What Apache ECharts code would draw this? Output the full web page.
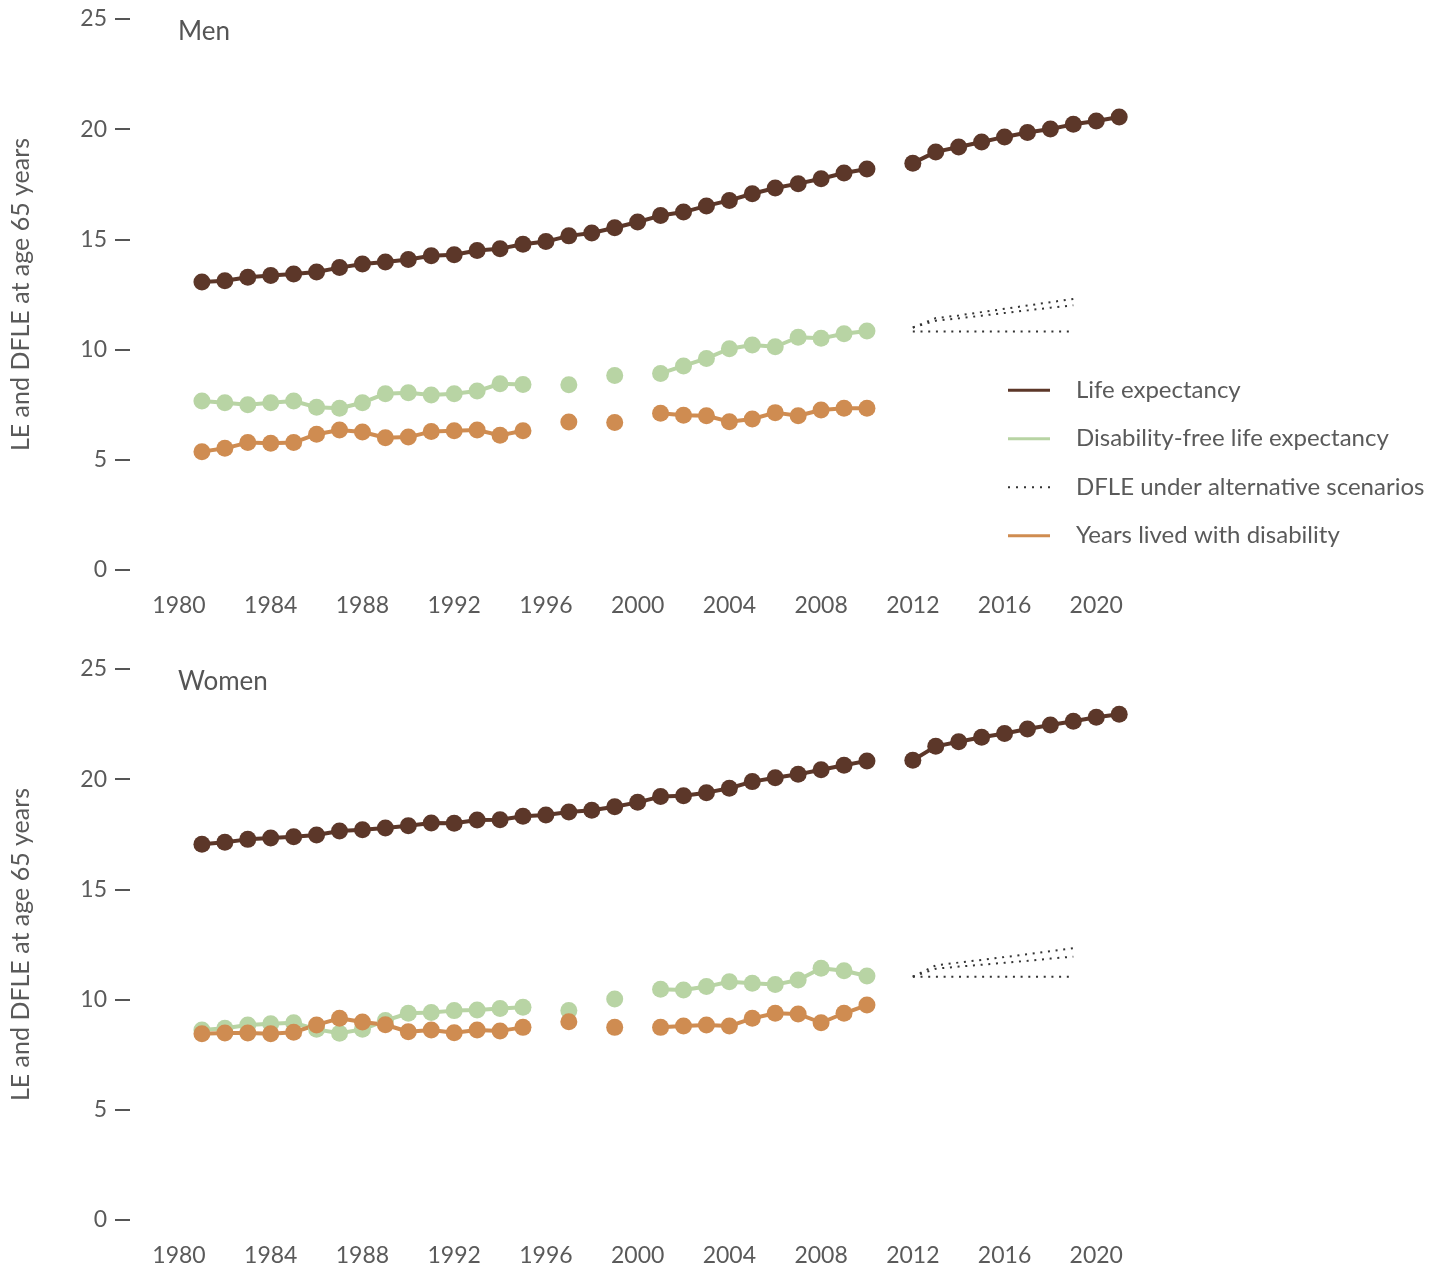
<!DOCTYPE html>
<html>
<head>
<meta charset="utf-8">
<title>Life expectancy and disability-free life expectancy at age 65</title>
<script src="https://cdn.jsdelivr.net/npm/echarts@6/dist/echarts.min.js"></script>
<style>
  html, body { margin: 0; padding: 0; background: #ffffff; }
  #chart { width: 1436px; height: 1268px; }
</style>
</head>
<body>
<div id="chart"></div>
<script>
// Calendar years 1981–2021 (null = no estimate for that year)
const years = [1981, 1982, 1983, 1984, 1985, 1986, 1987, 1988, 1989, 1990,
               1991, 1992, 1993, 1994, 1995, 1996, 1997, 1998, 1999, 2000,
               2001, 2002, 2003, 2004, 2005, 2006, 2007, 2008, 2009, 2010,
               2011, 2012, 2013, 2014, 2015, 2016, 2017, 2018, 2019, 2020, 2021];

// Men
const menLE   = [13.07, 13.12, 13.28, 13.36, 13.43, 13.52, 13.72, 13.88, 13.97, 14.09,
                 14.26, 14.30, 14.50, 14.58, 14.78, 14.90, 15.16, 15.29, 15.53, 15.79,
                 16.08, 16.24, 16.52, 16.77, 17.07, 17.33, 17.53, 17.75, 18.01, 18.19,
                 null, 18.46, 18.97, 19.19, 19.42, 19.65, 19.85, 20.01, 20.22, 20.37, 20.55];
const menDFLE = [7.67, 7.59, 7.50, 7.59, 7.67, 7.38, 7.34, 7.59, 8.00, 8.04,
                 7.94, 8.00, 8.12, 8.45, 8.42, null, 8.41, null, 8.83, null,
                 8.92, 9.26, 9.60, 10.04, 10.21, 10.13, 10.56, 10.51, 10.72, 10.84,
                 null, null, null, null, null, null, null, null, null, null, null];
const menYLD  = [5.37, 5.52, 5.78, 5.75, 5.78, 6.16, 6.35, 6.26, 6.00, 6.03,
                 6.28, 6.32, 6.35, 6.11, 6.32, null, 6.72, null, 6.69, null,
                 7.11, 7.02, 7.00, 6.73, 6.85, 7.14, 7.00, 7.26, 7.34, 7.34,
                 null, null, null, null, null, null, null, null, null, null, null];

// Women
const womenLE   = [17.05, 17.14, 17.27, 17.33, 17.39, 17.47, 17.65, 17.71, 17.79, 17.89,
                   18.01, 18.00, 18.15, 18.16, 18.32, 18.38, 18.51, 18.59, 18.75, 18.95,
                   19.21, 19.25, 19.39, 19.59, 19.89, 20.07, 20.22, 20.43, 20.63, 20.83,
                   null, 20.86, 21.49, 21.70, 21.90, 22.07, 22.28, 22.46, 22.63, 22.81, 22.95];
const womenDFLE = [8.62, 8.70, 8.85, 8.90, 8.95, 8.65, 8.47, 8.65, 9.05, 9.38,
                   9.41, 9.50, 9.53, 9.60, 9.65, null, 9.50, null, 10.03, null,
                   10.47, 10.44, 10.59, 10.81, 10.74, 10.68, 10.89, 11.42, 11.31, 11.07,
                   null, null, null, null, null, null, null, null, null, null, null];
const womenYLD  = [8.45, 8.48, 8.48, 8.45, 8.52, 8.85, 9.15, 8.98, 8.86, 8.54,
                   8.62, 8.50, 8.62, 8.58, 8.74, null, 9.00, null, 8.74, null,
                   8.74, 8.80, 8.85, 8.80, 9.15, 9.38, 9.35, 8.95, 9.38, 9.75,
                   null, null, null, null, null, null, null, null, null, null, null];

// DFLE projections under alternative scenarios, 2012–2019
const scenarioYears = [2012, 2013, 2014, 2015, 2016, 2017, 2018, 2019];
const menScenHigh   = [11.00, 11.43, 11.55, 11.70, 11.85, 12.00, 12.15, 12.30];
const menScenMid    = [11.00, 11.31, 11.42, 11.54, 11.66, 11.78, 11.90, 12.01];
const menScenFlat   = [10.82, 10.82, 10.82, 10.82, 10.82, 10.82, 10.82, 10.82];
const womenScenHigh = [11.04, 11.55, 11.68, 11.80, 11.93, 12.06, 12.20, 12.33];
const womenScenMid  = [11.04, 11.40, 11.50, 11.58, 11.67, 11.76, 11.86, 11.95];
const womenScenFlat = [11.04, 11.04, 11.04, 11.04, 11.04, 11.04, 11.04, 11.04];

const yTicks = [0, 5, 10, 15, 20, 25];
const panelTitles = ['Men', 'Women'];
const seriesNames = ['Life expectancy', 'Disability-free life expectancy',
                     'DFLE under alternative scenarios', 'Years lived with disability'];

const C_LE = '#5c3729', C_DFLE = '#b8d4a4', C_YLD = '#cf8c51', C_SCEN = '#333333';
const FONT = 'Lato, "Open Sans", sans-serif';
const TEXT = '#5a5a5a';

function pairs(xs, vs) {
  return xs.map((x, i) => [x, vs[i] == null ? '-' : vs[i]]);
}

function markedLine(name, color, values, gridIndex) {
  return {
    name: name, type: 'line', xAxisIndex: gridIndex, yAxisIndex: gridIndex,
    data: pairs(years, values), connectNulls: false,
    color: color, symbol: 'circle', symbolSize: 17, showSymbol: true,
    lineStyle: { color: color, width: 4 },
    itemStyle: { color: color },
    silent: true
  };
}

function scenarioLine(values, gridIndex) {
  return {
    name: seriesNames[2], type: 'line', xAxisIndex: gridIndex, yAxisIndex: gridIndex,
    data: pairs(scenarioYears, values), color: C_SCEN,
    symbol: 'none', showSymbol: false,
    lineStyle: { color: C_SCEN, width: 2, type: [2, 5.7] },
    itemStyle: { color: C_SCEN },
    silent: true
  };
}

const gridTops = [19, 669];
const grids = gridTops.map(t => ({ left: 179, top: t, width: 1009, height: 551 }));

const xAxes = grids.map((g, i) => ({
  type: 'value', gridIndex: i, min: 1980, max: 2024, interval: 4,
  axisLine: { show: false }, axisTick: { show: false }, splitLine: { show: false },
  axisLabel: { show: true, showMaxLabel: false, margin: 24, color: TEXT,
               fontFamily: FONT, fontSize: 23, formatter: v => String(v) }
}));

const yAxes = grids.map((g, i) => ({
  type: 'value', gridIndex: i, min: yTicks[0], max: yTicks[yTicks.length - 1], interval: 5,
  offset: 49,
  name: 'LE and DFLE at age 65 years', nameLocation: 'middle', nameGap: 97,
  nameTextStyle: { color: TEXT, fontFamily: FONT, fontSize: 25 },
  axisLine: { show: false },
  axisTick: { show: true, length: 15, lineStyle: { color: '#555555', width: 2 } },
  splitLine: { show: false },
  axisLabel: { margin: 23, color: TEXT, fontFamily: FONT, fontSize: 23 }
}));

const dottedIcon = 'path://M0,0h2v2h-2zM8,0h2v2h-2zM16,0h2v2h-2zM24,0h2v2h-2zM32,0h2v2h-2zM40,0h2v2h-2z';
const barIcon = 'path://M0,0h42v3h-42z';

const option = {
  animation: false,
  backgroundColor: '#ffffff',
  title: panelTitles.map((t, i) => ({
    text: t, left: 178, top: gridTops[i], padding: 0,
    textStyle: { color: '#555555', fontFamily: FONT, fontSize: 26, fontWeight: 'normal' }
  })),
  legend: {
    orient: 'vertical', left: 1008, top: 377, padding: 0,
    itemWidth: 42, itemHeight: 3, itemGap: 22,
    selectedMode: false,
    textStyle: { color: TEXT, fontFamily: FONT, fontSize: 24, lineHeight: 26.5, padding: [0, 0, 0, 21] },
    data: [
      { name: seriesNames[0], icon: barIcon },
      { name: seriesNames[1], icon: barIcon },
      { name: seriesNames[2], icon: dottedIcon },
      { name: seriesNames[3], icon: barIcon }
    ]
  },
  grid: grids,
  xAxis: xAxes,
  yAxis: yAxes,
  series: [
    markedLine(seriesNames[0], C_LE, menLE, 0),
    markedLine(seriesNames[1], C_DFLE, menDFLE, 0),
    markedLine(seriesNames[3], C_YLD, menYLD, 0),
    scenarioLine(menScenHigh, 0),
    scenarioLine(menScenMid, 0),
    scenarioLine(menScenFlat, 0),
    markedLine(seriesNames[0], C_LE, womenLE, 1),
    markedLine(seriesNames[1], C_DFLE, womenDFLE, 1),
    markedLine(seriesNames[3], C_YLD, womenYLD, 1),
    scenarioLine(womenScenHigh, 1),
    scenarioLine(womenScenMid, 1),
    scenarioLine(womenScenFlat, 1)
  ]
};

const chart = echarts.init(document.getElementById('chart'), null, { renderer: 'canvas' });
chart.setOption(option);
</script>
</body>
</html>
